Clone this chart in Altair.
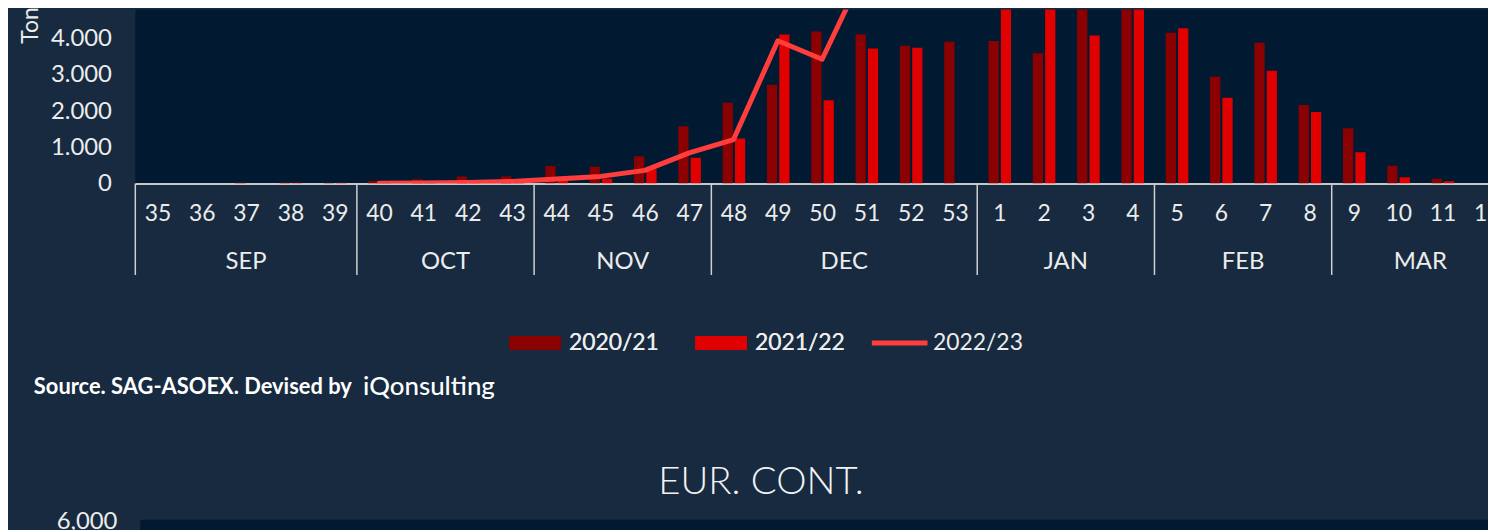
import json
import altair as alt
import pandas as pd

# ---------------- data ----------------
weeks = [35, 36, 37, 38, 39, 40, 41, 42, 43, 44, 45, 46, 47, 48, 49, 50, 51, 52, 53,
         1, 2, 3, 4, 5, 6, 7, 8, 9, 10, 11, 12]
months = (["SEP"] * 5 + ["OCT"] * 4 + ["NOV"] * 4 + ["DEC"] * 6 +
          ["JAN"] * 4 + ["FEB"] * 4 + ["MAR"] * 4)
season_2020_21 = [0, 0, 25, 25, 20, 70, 115, 190, 190, 480, 460, 755, 1580, 2230, 2725,
                  4200, 4125, 3805, 3915, 3935, 3595, 5300, 5600, 4160, 2945, 3890, 2165,
                  1525, 490, 130, 0]
season_2021_22 = [0, 0, 0, 20, 20, 40, 50, 60, 110, 90, 130, 390, 710, 1240, 4115,
                  2300, 3730, 3750, None, 5500, 5800, 4090, 5400, 4290, 2370, 3110, 1975,
                  865, 170, 60, 0]
season_2022_23 = [None, None, None, None, None, 5, 15, 30, 55, 125, 195, 362, 846, 1214,
                  3940, 3430, 6000, None, None, None, None, None, None, None, None, None,
                  None, None, None, None, None]
series_names = ["2020/21", "2021/22", "2022/23"]
y_ticks = [0, 1000, 2000, 3000, 4000]
y_title = "Tons"
source_text = ["Source. SAG-ASOEX. Devised by"]
logo_text = ["iQonsulting"]
next_title = ["EUR. CONT."]
next_label = ["6,000"]

# ---------------- tables ----------------
idx = list(range(len(weeks)))
base = pd.DataFrame({"idx": idx, "week": [str(w) for w in weeks], "month": months})
bars_a = base.assign(value=season_2020_21, season=series_names[0])
bars_b = base.assign(value=season_2021_22, season=series_names[1]).dropna(subset=["value"])
line_df = base.assign(value=season_2022_23, season=series_names[2]).dropna(subset=["value"])
grp = base.groupby("month", sort=False)["idx"]
month_df = pd.DataFrame({"month": grp.mean().index, "center": grp.mean().values,
                         "bound": grp.min().values - 0.5})

# ---------------- style ----------------
FONT = "Lato"
TXT = "#ececec"
BG = "#172a40"
PLOT = "#021a31"
W, H = 1360, 175

label_expr = json.dumps([str(w) for w in weeks]) + "[datum.value]"
x_axis = alt.Axis(values=idx, labelExpr=label_expr, labelFlush=False, labelOverlap=False,
                  ticks=False, grid=False, domainColor="#c8c8c8", domainWidth=2,
                  labelFontSize=23, labelColor=TXT, labelFont=FONT, labelPadding=30,
                  labelBaseline="middle", title=None)
x_scale = alt.Scale(domain=[-0.5, 30.027], nice=False, zero=False, padding=0)


def xq(field):
    return alt.X(f"{field}:Q", scale=x_scale, axis=x_axis)


y_enc = alt.Y("value:Q", scale=alt.Scale(domain=[0, 4808], nice=False, padding=0),
              axis=alt.Axis(values=y_ticks, labelExpr="replace(format(datum.value, ','), ',', '.')",
                            grid=False, ticks=False, domain=False, labelPadding=24,
                            labelFontSize=24, labelColor=TXT, labelFont=FONT,
                            title=y_title, titleAngle=270, titleAlign="left",
                            titleBaseline="alphabetic", titleX=-98, titleY=34,
                            titleFontSize=23, titleFontWeight="normal", titleColor=TXT,
                            titleFont=FONT))

color_enc = alt.Color("season:N",
                      scale=alt.Scale(domain=series_names[:2], range=["#8b0000", "#e00000"]),
                      legend=alt.Legend(title=None, orient="none", direction="horizontal",
                                        legendX=376, legendY=309.5, padding=0,
                                        symbolType="M-1,-0.27H1V0.27H-1Z", symbolSize=2704,
                                        symbolStrokeWidth=0, labelFontSize=23, labelColor=TXT,
                                        labelFont=FONT, labelOffset=8, columnPadding=36))
stroke_enc = alt.Stroke("season:N",
                        scale=alt.Scale(domain=series_names[2:], range=["#ff3d3d"]),
                        legend=alt.Legend(title=None, orient="none", direction="horizontal",
                                          legendX=738, legendY=305, padding=0,
                                          symbolType="stroke", symbolSize=3136,
                                          symbolStrokeWidth=5, labelFontSize=23,
                                          labelColor=TXT, labelFont=FONT, labelOffset=3))

bar1 = alt.Chart(bars_a).mark_bar(width=10.3, xOffset=-5.8, clip=True).encode(
    x=xq("idx"), y=y_enc, color=color_enc)
bar2 = alt.Chart(bars_b).mark_bar(width=10.3, xOffset=6.6, clip=True).encode(
    x=xq("idx"), y=y_enc, color=color_enc)
line = alt.Chart(line_df).mark_line(strokeWidth=5, clip=True, strokeJoin="round",
                                    strokeCap="round").encode(
    x=xq("idx"), y=y_enc, stroke=stroke_enc)

seps = alt.Chart(month_df).mark_rule(color="#d0d0d0", strokeWidth=1.5).encode(
    x=xq("bound"), y=alt.value(H), y2=alt.value(267))
mlabels = alt.Chart(month_df).mark_text(fontSize=24, color=TXT, font=FONT,
                                        baseline="middle").encode(
    x=xq("center"), y=alt.value(254), text="month:N")

src = alt.Chart(pd.DataFrame({"t": source_text})).mark_text(
    fontSize=22, fontWeight="bold", color="#ffffff", font=FONT, align="left",
    baseline="middle").encode(x=alt.value(-102), y=alt.value(380), text="t:N")
logo = alt.Chart(pd.DataFrame({"t": logo_text})).mark_text(
    fontSize=26, fontWeight=500, color="#ffffff", font=FONT, align="left",
    baseline="middle").encode(x=alt.value(229), y=alt.value(380), text="t:N")
panel = alt.Chart(pd.DataFrame({"t": next_title})).mark_rect(color=PLOT).encode(
    x=alt.value(5), x2=alt.value(W), y=alt.value(513), y2=alt.value(530))
ptitle = alt.Chart(pd.DataFrame({"t": next_title})).mark_text(
    fontSize=38.5, fontWeight=300, color="#f2f2f2", font=FONT, align="center",
    baseline="middle").encode(x=alt.value(629), y=alt.value(475), text="t:N")
plabel = alt.Chart(pd.DataFrame({"t": next_label})).mark_text(
    fontSize=24, color=TXT, font=FONT, align="right", baseline="middle").encode(
    x=alt.value(-18), y=alt.value(515), text="t:N")

chart = alt.layer(bar1, bar2, line, seps, mlabels, src, logo, panel, ptitle, plabel).resolve_scale(
    color="independent", stroke="independent"
).properties(
    width=W, height=H,
    autosize=alt.AutoSizeParams(type="none"),
    padding={"left": 128, "top": 0, "right": 0, "bottom": 347},
).configure(background=BG).configure_view(fill=PLOT, strokeWidth=0)

chart.save("out.html", embed_options={"renderer": "svg", "actions": False})
